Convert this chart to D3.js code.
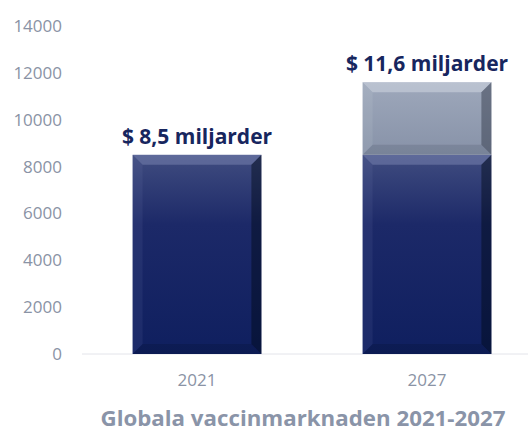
<!DOCTYPE html>
<html>
<head>
<meta charset="utf-8">
<script src="https://cdn.jsdelivr.net/npm/d3@7"></script>
<style>
  body { margin: 0; background: #fff; }
  svg { display: block; font-family: "Open Sans", sans-serif; }
</style>
</head>
<body>
<div class="chart"></div>
<script>
const years = ["2021", "2027"];
const baseValues = [8500, 8500];
const growthValues = [0, 3100];
const totalLabels = ["$ 8,5 miljarder", "$ 11,6 miljarder"];
const yTicks = [0, 2000, 4000, 6000, 8000, 10000, 12000, 14000];
const title = "Globala vaccinmarknaden 2021-2027";

const width = 528, height = 435;
const svg = d3.select(".chart").append("svg")
  .attr("width", width).attr("height", height);

const x = d3.scaleBand().domain(years).range([82, 542]).paddingInner(0.44).paddingOuter(0.22);
const y = d3.scaleLinear().domain([0, 14000]).range([354, 26]);

const defs = svg.append("defs");
const navy = defs.append("linearGradient").attr("id", "navy").attr("x1", 0).attr("y1", 0).attr("x2", 0).attr("y2", 1);
navy.append("stop").attr("offset", "0%").attr("stop-color", "#404c80");
navy.append("stop").attr("offset", "35%").attr("stop-color", "#1c2968");
navy.append("stop").attr("offset", "100%").attr("stop-color", "#0f1f5f");
const grey = defs.append("linearGradient").attr("id", "grey").attr("x1", 0).attr("y1", 0).attr("x2", 0).attr("y2", 1);
grey.append("stop").attr("offset", "0%").attr("stop-color", "#9ea8bb");
grey.append("stop").attr("offset", "100%").attr("stop-color", "#8792a8");

// baseline
svg.append("line")
  .attr("x1", 82).attr("x2", width)
  .attr("y1", y(0)).attr("y2", y(0))
  .attr("stroke", "#e3e4ea").attr("stroke-width", 1);

// y axis labels
svg.append("g").selectAll("text").data(yTicks).join("text")
  .attr("x", 62).attr("y", d => y(d) + 6)
  .attr("text-anchor", "end")
  .attr("font-size", 17).attr("fill", "#8a93a5")
  .text(d => d);

// x axis labels
svg.append("g").selectAll("text").data(years).join("text")
  .attr("x", d => x(d) + x.bandwidth() / 2).attr("y", 386)
  .attr("text-anchor", "middle")
  .attr("font-size", 17).attr("fill", "#8a93a5")
  .text(d => d);

function bevelBar(g, x0, y0, w, h, fill, light, dark) {
  const b = Math.min(10, h / 3);
  g.append("rect").attr("x", x0).attr("y", y0).attr("width", w).attr("height", h).attr("fill", fill);
  // top bevel
  g.append("polygon")
    .attr("points", [[x0, y0], [x0 + w, y0], [x0 + w - b, y0 + b], [x0 + b, y0 + b]].join(" "))
    .attr("fill", light).attr("opacity", 0.4);
  // left bevel
  g.append("polygon")
    .attr("points", [[x0, y0], [x0 + b, y0 + b], [x0 + b, y0 + h - b], [x0, y0 + h]].join(" "))
    .attr("fill", light).attr("opacity", 0.1);
  // right bevel
  g.append("polygon")
    .attr("points", [[x0 + w, y0], [x0 + w, y0 + h], [x0 + w - b, y0 + h - b], [x0 + w - b, y0 + b]].join(" "))
    .attr("fill", dark).attr("opacity", 0.45);
  // bottom bevel
  g.append("polygon")
    .attr("points", [[x0, y0 + h], [x0 + w, y0 + h], [x0 + w - b, y0 + h - b], [x0 + b, y0 + h - b]].join(" "))
    .attr("fill", dark).attr("opacity", 0.15);
}

const bars = svg.append("g");
years.forEach((yr, i) => {
  const bx = x(yr), bw = x.bandwidth();
  bevelBar(bars, bx, y(baseValues[i]), bw, y(0) - y(baseValues[i]), "url(#navy)", "#8d96c0", "#000814");
  if (growthValues[i] > 0) {
    const top = y(baseValues[i] + growthValues[i]);
    bevelBar(bars, bx, top, bw, y(baseValues[i]) - top, "url(#grey)", "#e4e8f0", "#2a3040");
  }
});

// value labels
svg.append("g").selectAll("text").data(years).join("text")
  .attr("x", d => x(d) + x.bandwidth() / 2)
  .attr("y", (d, i) => y(baseValues[i] + growthValues[i]) - 11)
  .attr("text-anchor", "middle")
  .attr("font-size", 21).attr("font-weight", "bold").attr("fill", "#17265e")
  .text((d, i) => totalLabels[i]);

svg.append("text")
  .attr("x", 303).attr("y", 426)
  .attr("text-anchor", "middle")
  .attr("font-size", 21).attr("font-weight", "bold").attr("fill", "#8a94a8")
  .attr("textLength", 405).attr("lengthAdjust", "spacingAndGlyphs")
  .text(title);
</script>
</body>
</html>
